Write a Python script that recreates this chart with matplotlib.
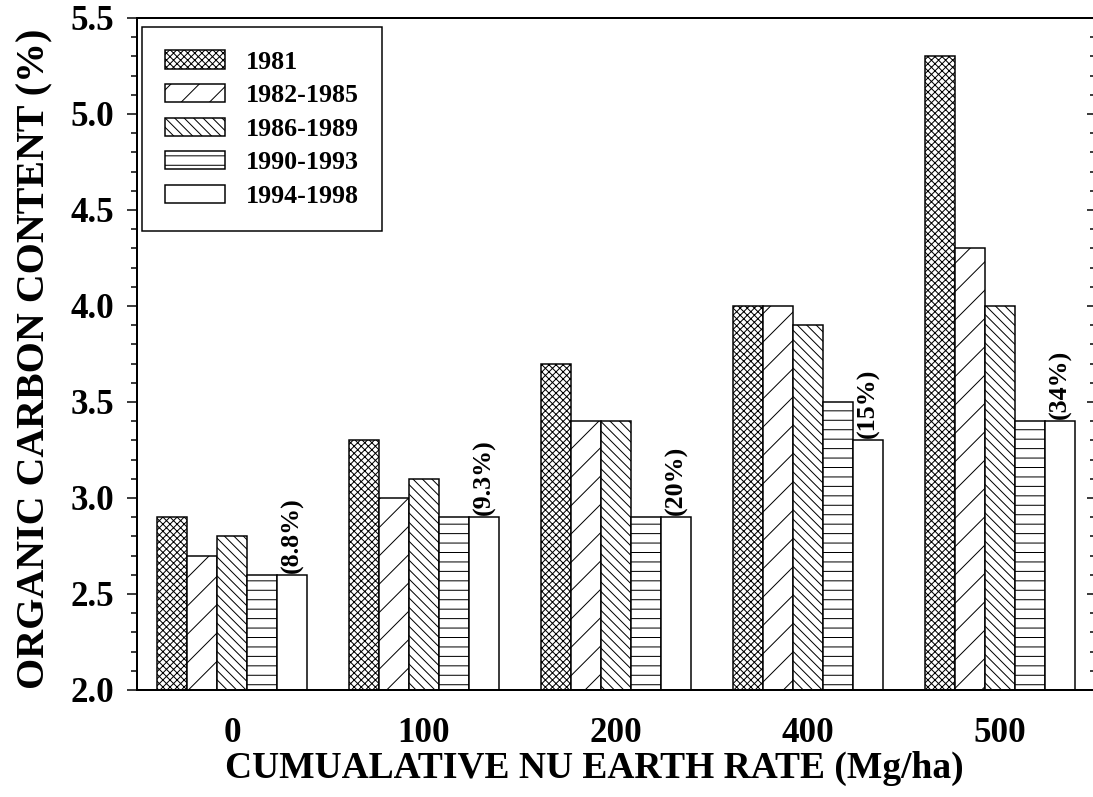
import numpy as np
import matplotlib.pyplot as plt
from matplotlib.ticker import MultipleLocator

# chart values
rates = ['0', '100', '200', '400', '500']
periods = ['1981', '1982-1985', '1986-1989', '1990-1993', '1994-1998']
carbon = {
    '1981':      [2.9, 3.3, 3.7, 4.0, 5.3],
    '1982-1985': [2.7, 3.0, 3.4, 4.0, 4.3],
    '1986-1989': [2.8, 3.1, 3.4, 3.9, 4.0],
    '1990-1993': [2.6, 2.9, 2.9, 3.5, 3.4],
    '1994-1998': [2.6, 2.9, 2.9, 3.3, 3.4],
}
increase = ['(8.8%)', '(9.3%)', '(20%)', '(15%)', '(34%)']

hatches = ['xxxxxxxx', '//', '\\\\\\\\\\\\', '---', '']

DPI = 170


def pt(px):
    # pixel size -> points at this dpi
    return px * 72.0 / DPI


plt.rcParams['font.family'] = 'Liberation Serif'
plt.rcParams['font.weight'] = 'bold'
plt.rcParams['hatch.linewidth'] = pt(1.0)

fig = plt.figure(figsize=(1093 / DPI, 797 / DPI), dpi=DPI)
ax = fig.add_axes([137 / 1093, 107 / 797, 957 / 1093, 672 / 797])

x = np.arange(len(rates))
w = 30 / 192
for i, p in enumerate(periods):
    ax.bar(x + (i - 2) * w, carbon[p], w, bottom=0, color='white',
           edgecolor='black', linewidth=pt(1.5), hatch=hatches[i], label=p)

last = carbon[periods[-1]]
for xi, h, s in zip(x, last, increase):
    ax.text(xi + 2 * w, h + 0.01, s, rotation=90, ha='center', va='bottom',
            fontsize=pt(26), fontweight='bold')

ax.set_ylim(2.0, 5.5)
ax.set_xlim(-95 / 192, 862 / 192)
ax.set_xticks(x)
ax.set_xticklabels(rates)
ax.yaxis.set_major_locator(MultipleLocator(0.5))
ax.yaxis.set_minor_locator(MultipleLocator(0.1))
ax.yaxis.set_major_formatter(plt.FormatStrFormatter('%.1f'))
ax.tick_params(axis='x', length=0, pad=pt(27), labelsize=pt(35))
ax.tick_params(axis='y', which='major', direction='out', length=pt(10),
               width=pt(1.5), pad=pt(13), labelsize=pt(35))
ax.tick_params(axis='y', which='minor', direction='out', length=pt(6),
               width=pt(1.5))
for s in ax.spines.values():
    s.set_linewidth(pt(2))

# inward ticks on the right side
ax2 = ax.twinx()
ax2.set_ylim(ax.get_ylim())
ax2.yaxis.set_major_locator(MultipleLocator(0.5))
ax2.yaxis.set_minor_locator(MultipleLocator(0.1))
ax2.tick_params(axis='y', which='major', direction='in', length=pt(7),
                width=pt(1.5), labelright=False)
ax2.tick_params(axis='y', which='minor', direction='in', length=pt(4),
                width=pt(1.5))
for s in ax2.spines.values():
    s.set_linewidth(pt(2))

ax.set_xlabel('CUMUALATIVE NU EARTH RATE (Mg/ha)', fontsize=pt(37.5),
              fontweight='bold', va='center')
ax.xaxis.set_label_coords((594 - 137) / 957, (690 - 768) / 672)
ax.set_ylabel('ORGANIC CARBON CONTENT (%)', fontsize=pt(40),
              fontweight='bold', va='center')
ax.yaxis.set_label_coords((35 - 137) / 957, (690 - 359) / 672)

leg = ax.legend(loc='upper left', bbox_to_anchor=(5 / 957, (690 - 27) / 672),
                borderaxespad=0, fontsize=pt(26), frameon=True, fancybox=False,
                handlelength=2.3, handleheight=0.7, handletextpad=0.8,
                labelspacing=0.4, borderpad=0.9)
leg.get_frame().set_edgecolor('black')
leg.get_frame().set_linewidth(pt(1.5))
leg.get_frame().set_alpha(1)

fig.savefig('out.png', dpi=DPI)
